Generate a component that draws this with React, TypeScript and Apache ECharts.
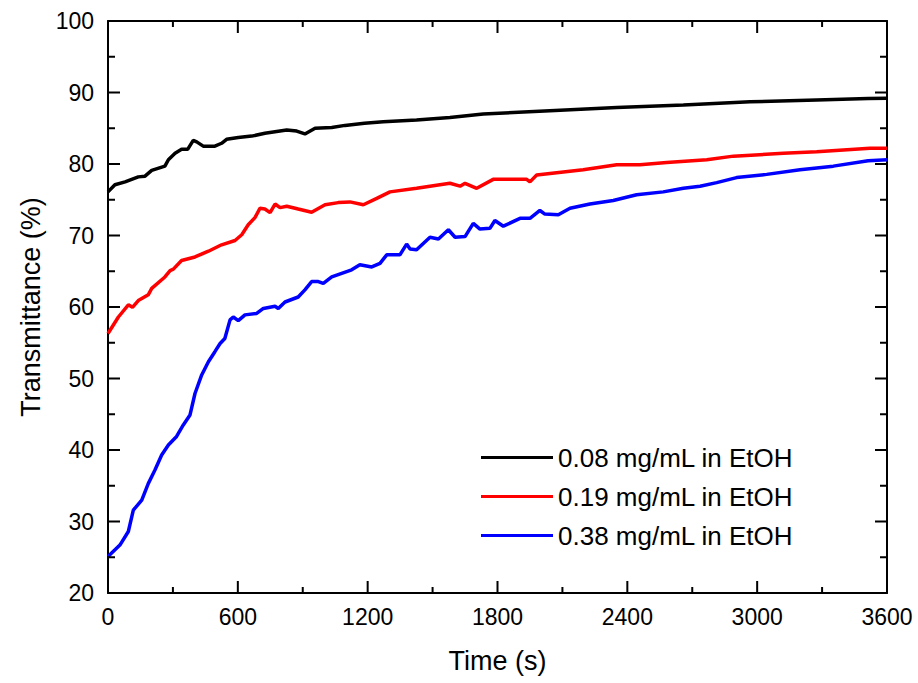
import React, { useEffect, useRef } from "react";
import * as echarts from "echarts";

const seriesNames = ["0.08 mg/mL in EtOH", "0.19 mg/mL in EtOH", "0.38 mg/mL in EtOH"];
const seriesColors = ["#000000", "#ff0000", "#0000ff"];

const timeBlack = [0, 32, 79, 140, 171, 202, 263, 279, 310, 340, 368, 394, 410, 440, 494, 525, 548, 602, 664, 725, 826, 872, 910, 957, 1034, 1095, 1185, 1272, 1426, 1580, 1734, 2042, 2351, 2659, 2967, 3275, 3513, 3600];
const valBlack = [76.1, 77.1, 77.5, 78.2, 78.3, 79.1, 79.7, 80.6, 81.5, 82.05, 82.05, 83.3, 83.1, 82.5, 82.5, 82.9, 83.45, 83.7, 83.9, 84.3, 84.75, 84.6, 84.2, 85.0, 85.1, 85.4, 85.7, 85.9, 86.15, 86.5, 87.0, 87.45, 87.9, 88.25, 88.7, 88.95, 89.15, 89.2];

const timeRed = [0, 48, 94, 113, 140, 186, 202, 263, 287, 302, 340, 402, 464, 525, 587, 618, 648, 679, 702, 725, 749, 772, 795, 826, 879, 941, 1003, 1064, 1118, 1180, 1242, 1303, 1426, 1580, 1627, 1650, 1704, 1780, 1935, 1950, 1981, 2196, 2351, 2458, 2582, 2767, 2890, 3121, 3275, 3521, 3600];
const valRed = [56.3, 58.6, 60.3, 59.95, 60.9, 61.7, 62.6, 64.2, 65.1, 65.3, 66.5, 67.0, 67.8, 68.7, 69.3, 70.1, 71.5, 72.5, 73.8, 73.7, 73.2, 74.4, 73.9, 74.1, 73.7, 73.25, 74.3, 74.6, 74.7, 74.3, 75.2, 76.1, 76.6, 77.3, 76.9, 77.3, 76.6, 77.85, 77.85, 77.5, 78.45, 79.2, 79.9, 79.9, 80.2, 80.6, 81.1, 81.5, 81.7, 82.2, 82.2];

const timeBlue = [0, 55, 94, 117, 156, 186, 217, 248, 279, 317, 348, 379, 402, 433, 464, 494, 518, 540, 564, 579, 602, 633, 687, 718, 772, 787, 818, 879, 910, 941, 972, 995, 1034, 1080, 1126, 1164, 1219, 1257, 1288, 1349, 1380, 1396, 1426, 1488, 1527, 1573, 1604, 1650, 1688, 1719, 1765, 1788, 1827, 1904, 1950, 1996, 2019, 2081, 2135, 2227, 2335, 2443, 2566, 2659, 2736, 2813, 2905, 3044, 3198, 3352, 3513, 3600];
const valBlue = [25.1, 26.7, 28.6, 31.6, 33.0, 35.3, 37.2, 39.3, 40.7, 41.9, 43.5, 44.9, 47.9, 50.5, 52.35, 53.75, 54.9, 55.6, 58.2, 58.6, 58.1, 58.9, 59.1, 59.8, 60.1, 59.8, 60.7, 61.4, 62.4, 63.55, 63.55, 63.3, 64.2, 64.7, 65.2, 65.9, 65.6, 66.1, 67.3, 67.3, 68.8, 68.1, 68.0, 69.75, 69.5, 70.8, 69.75, 69.85, 71.7, 70.9, 71.0, 72.1, 71.3, 72.4, 72.4, 73.5, 73.0, 72.9, 73.8, 74.4, 74.9, 75.7, 76.1, 76.6, 76.9, 77.4, 78.1, 78.55, 79.2, 79.7, 80.45, 80.6];

const xMin = 0, xMax = 3600, xStep = 600;
const yMin = 20, yMax = 100, yStep = 10;
const xMajorTicks = [0, 600, 1200, 1800, 2400, 3000, 3600];
const xMinorTicks = [300, 900, 1500, 2100, 2700, 3300];
const yMajorTicks = [20, 30, 40, 50, 60, 70, 80, 90, 100];
const yMinorTicks = [25, 35, 45, 55, 65, 75, 85, 95];

const FONT = "'Liberation Sans', Arial, Helvetica, sans-serif";
const W = 918, H = 683;
const GRID = { left: 108, top: 21, right: 31, bottom: 90 };
const GW = W - GRID.left - GRID.right;
const GH = H - GRID.top - GRID.bottom;

const zip = (t: number[], v: number[]) => t.map((x, i) => [x, v[i]]);

const mkAxisLine = () => ({ show: true, onZero: false, lineStyle: { color: "#000", width: 2 } });

export default function App() {
  const ref = useRef<HTMLDivElement>(null);
  useEffect(() => {
    if (!ref.current) return;
    const chart = echarts.init(ref.current, undefined, { renderer: "svg" });
    const datas = [zip(timeBlack, valBlack), zip(timeRed, valRed), zip(timeBlue, valBlue)];

    // tick lengths in pixels converted to data units through the axis extents
    const xPerPx = (xMax - xMin) / GW;
    const yPerPx = (yMax - yMin) / GH;
    const tickData: any[] = [];
    const addX = (v: number, px: number) => {
      const d = px * yPerPx;
      tickData.push([v, yMin], [v, yMin + d], "-", [v, yMax], [v, yMax - d], "-");
    };
    const addY = (v: number, px: number) => {
      const d = px * xPerPx;
      tickData.push([xMin, v], [xMin + d, v], "-", [xMax, v], [xMax - d, v], "-");
    };
    xMajorTicks.forEach((v) => addX(v, 12));
    xMinorTicks.forEach((v) => addX(v, 6));
    yMajorTicks.forEach((v) => addY(v, 12));
    yMinorTicks.forEach((v) => addY(v, 7));

    chart.setOption({
      animation: false,
      backgroundColor: "#fff",
      textStyle: { fontFamily: FONT },
      grid: { ...GRID, containLabel: false },
      legend: {
        orient: "vertical",
        left: 476,
        top: 439,
        itemWidth: 72,
        itemHeight: 3,
        itemGap: 12,
        icon: "rect",
        textStyle: { fontFamily: FONT, fontSize: 26, color: "#000", lineHeight: 27 },
        data: seriesNames,
      },
      xAxis: [
        {
          type: "value", min: xMin, max: xMax, interval: xStep, position: "bottom",
          axisLine: mkAxisLine(), axisTick: { show: false }, splitLine: { show: false },
          axisLabel: { color: "#000", fontSize: 23, fontFamily: FONT, margin: 12, formatter: (v: number) => String(v) },
          name: "Time (s)", nameLocation: "middle", nameGap: 54,
          nameTextStyle: { color: "#000", fontSize: 27, fontFamily: FONT },
        },
        {
          type: "value", min: xMin, max: xMax, interval: xStep, position: "top",
          axisLine: mkAxisLine(), axisTick: { show: false }, splitLine: { show: false },
          axisLabel: { show: false },
        },
      ],
      yAxis: [
        {
          type: "value", min: yMin, max: yMax, interval: yStep, position: "left",
          axisLine: mkAxisLine(), axisTick: { show: false }, splitLine: { show: false },
          axisLabel: { color: "#000", fontSize: 23, fontFamily: FONT, margin: 14, formatter: (v: number) => String(v) },
          name: "Transmittance (%)", nameLocation: "middle", nameGap: 62,
          nameTextStyle: { color: "#000", fontSize: 27, fontFamily: FONT },
        },
        {
          type: "value", min: yMin, max: yMax, interval: yStep, position: "right",
          axisLine: mkAxisLine(), axisTick: { show: false }, splitLine: { show: false },
          axisLabel: { show: false },
        },
      ],
      series: [
        ...seriesNames.map((name, i) => ({
          name,
          type: "line",
          xAxisIndex: 0,
          yAxisIndex: 0,
          showSymbol: false,
          symbol: "none",
          color: seriesColors[i],
          itemStyle: { color: seriesColors[i] },
          lineStyle: { color: seriesColors[i], width: 3.5 },
          data: datas[i],
          z: 3 - i,
        })),
        {
          name: "axis ticks",
          type: "line",
          xAxisIndex: 0,
          yAxisIndex: 0,
          showSymbol: false,
          symbol: "none",
          connectNulls: false,
          clip: false,
          silent: true,
          color: "#000",
          lineStyle: { color: "#000", width: 2 },
          data: tickData,
          z: 5,
        },
      ],
    });
    return () => chart.dispose();
  }, []);
  return <div ref={ref} style={{ width: W, height: H, position: "absolute", left: 0, top: 0 }} />;
}
